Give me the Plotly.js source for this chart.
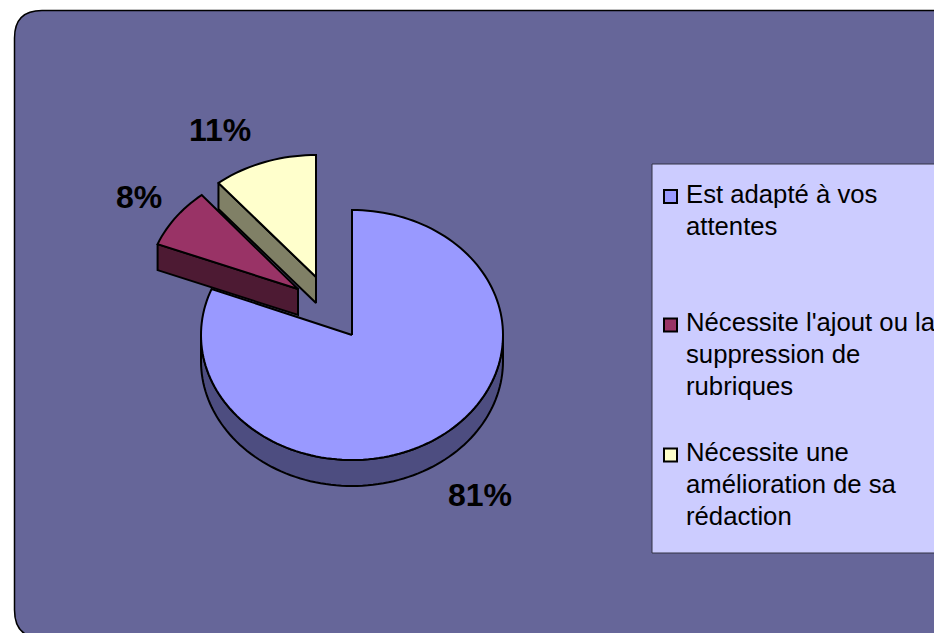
<!DOCTYPE html>
<html>
<head>
<meta charset="utf-8">
<script src="https://cdn.plot.ly/plotly-3.0.1.min.js"></script>
<style>html,body{margin:0;padding:0;overflow:hidden;background:#fff}#chart{width:934px;height:633px}</style>
</head>
<body>
<div id="chart"></div>
<script>
// Data
const categoryLines = [
  ["Est adapté à vos", "attentes"],
  ["Nécessite l'ajout ou la", "suppression de", "rubriques"],
  ["Nécessite une", "amélioration de sa", "rédaction"]
];
const values = [81, 8, 11];
// Style
const topColors = ["#9999FF", "#993366", "#FFFFCC"];
const wallColors = ["#4D4D80", "#4D1A33", "#808066"];
const centers = [[352, 335], [298, 289], [316, 277]];
const radiiX = [151, 151, 153];
const radiiY = [125, 122, 122];
const labelPos = [[480, 495], [139, 197], [220, 130]];
const legendTextY = [179, 307, 437];
const lineStep = 32;
const swatchY = [196.5, 325, 455];
const depth = 26;

const total = values.reduce((a, b) => a + b, 0);
const traces = [];
const poly = (pts, color, name) => ({
  type: "scatter", mode: "lines", name: name, hoverinfo: "skip", showlegend: false,
  x: pts.map(p => p[0]), y: pts.map(p => p[1]),
  fill: "toself", fillcolor: color,
  line: {color: "#000", width: 2, simplify: false}
});

let start = 0;
values.forEach((v, i) => {
  const end = start + v / total * 360;
  const c = centers[i];
  const pt = (deg, dy) => {
    const t = deg * Math.PI / 180;
    return [c[0] + radiiX[i] * Math.sin(t), c[1] - radiiY[i] * Math.cos(t) + (dy || 0)];
  };
  const arc = (a0, a1, dy) => {
    const n = Math.max(2, Math.ceil(Math.abs(a1 - a0) / 2));
    const out = [];
    for (let k = 0; k <= n; k++) out.push(pt(a0 + (a1 - a0) * k / n, dy));
    return out;
  };
  const name = categoryLines[i].join(" ");
  // outer wall on the front half of the ellipse (90..270 degrees)
  const a0 = Math.max(start, 90), a1 = Math.min(end, 270);
  if (a1 > a0) {
    traces.push(poly(arc(a0, a1, 0).concat(arc(a1, a0, depth)).concat([pt(a0, 0)]), wallColors[i], name + " (side)"));
  }
  // cut face toward the viewer
  if (i > 0) {
    const e = pt(start, 0);
    traces.push(poly([e, c, [c[0], c[1] + depth], [e[0], e[1] + depth], e], wallColors[i], name + " (face)"));
  }
  // top face
  traces.push(poly([c].concat(arc(start, end, 0)).concat([c]), topColors[i], name));
  start = end;
});

const shapes = [
  {type: "path", layer: "below", xref: "x", yref: "y",
   path: "M 14.5 38 Q 14.5 10.5 42 10.5 L 960 10.5 L 960 638 L 42 638 Q 14.5 638 14.5 610 Z",
   fillcolor: "#666699", line: {color: "#000", width: 1.5}},
  {type: "rect", xref: "x", yref: "y", x0: 652, x1: 960, y0: 164, y1: 553,
   fillcolor: "#CCCCFF", line: {color: "#333344", width: 1}}
];
swatchY.forEach((y, i) => shapes.push({
  type: "rect", xref: "x", yref: "y", x0: 664, x1: 677, y0: y - 6.5, y1: y + 6.5,
  fillcolor: topColors[i], line: {color: "#000", width: 2}
}));

const annotations = [];
values.forEach((v, i) => annotations.push({
  xref: "x", yref: "y", x: labelPos[i][0], y: labelPos[i][1], text: v + "%", showarrow: false,
  xanchor: "center", yanchor: "middle",
  font: {family: "Liberation Sans, Arial, sans-serif", size: 32, color: "#000", weight: 700}
}));
categoryLines.forEach((lines, i) => lines.forEach((t, j) => annotations.push({
  xref: "x", yref: "y", x: 685, y: legendTextY[i] + j * lineStep, text: t, showarrow: false,
  xanchor: "left", yanchor: "top", align: "left", borderpad: 0,
  font: {family: "Liberation Sans, Arial, sans-serif", size: 25.7, color: "#000"}
})));

Plotly.newPlot("chart", traces, {
  width: 934, height: 633,
  margin: {l: 0, r: 0, t: 0, b: 0, pad: 0},
  paper_bgcolor: "#FFFFFF", plot_bgcolor: "rgba(0,0,0,0)",
  xaxis: {visible: false, range: [0, 934], fixedrange: true},
  yaxis: {visible: false, range: [633, 0], fixedrange: true},
  showlegend: false, hovermode: false,
  shapes: shapes, annotations: annotations
}, {staticPlot: true, displayModeBar: false});
</script>
</body>
</html>
